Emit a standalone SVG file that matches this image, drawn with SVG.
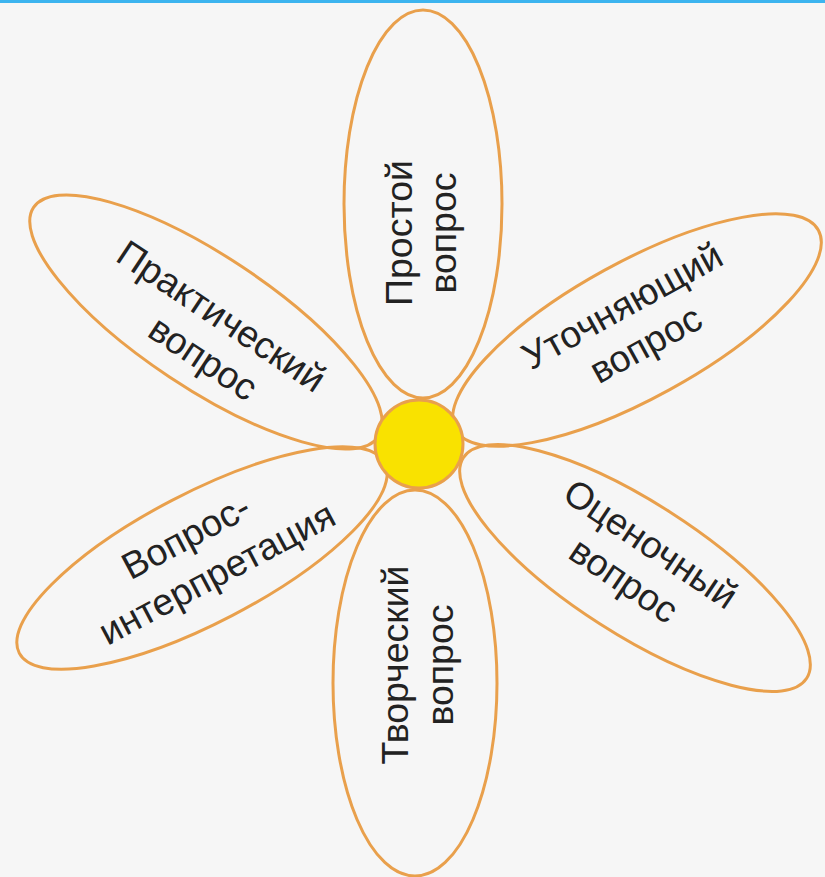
<svg xmlns="http://www.w3.org/2000/svg" width="825" height="877" viewBox="0 0 825 877">
<style>
.petal{fill:none;stroke:#e9a04c;stroke-width:3}
.lbl{font-family:"Liberation Sans",Arial,sans-serif;font-size:37.5px;fill:#222;text-anchor:middle}
</style>
<rect x="0" y="0" width="825" height="877" fill="#f6f6f6"/>
<rect x="0" y="0" width="825" height="3" fill="#3cb4ef"/>
<g id="petal-top"><ellipse class="petal" cx="423" cy="204" rx="79" ry="194"/>
<text class="lbl" transform="translate(424,233) rotate(-90)"><tspan x="0" y="-12">Простой</tspan><tspan x="0" y="32">вопрос</tspan></text></g>
<g id="petal-upper-left"><ellipse class="petal" transform="translate(206,322) rotate(33.6)" cx="0" cy="0" rx="207" ry="66"/>
<text class="lbl" transform="translate(211,339) rotate(33.6)"><tspan x="-4" y="-12">Практический</tspan><tspan x="4" y="33">вопрос</tspan></text></g>
<g id="petal-upper-right"><ellipse class="petal" transform="translate(637,330) rotate(-28.8)" cx="0" cy="0" rx="207" ry="68"/>
<text class="lbl" transform="translate(635,327) rotate(-28.8)"><tspan x="-1" y="-12">Уточняющий</tspan><tspan x="1" y="33">вопрос</tspan></text></g>
<g id="petal-lower-right"><ellipse class="petal" transform="translate(635,568) rotate(32.7)" cx="0" cy="0" rx="204" ry="66"/>
<text class="lbl" transform="translate(636,564) rotate(34)"><tspan x="1" y="-12">Оценочный</tspan><tspan x="-1" y="33">вопрос</tspan></text></g>
<g id="petal-lower-left"><ellipse class="petal" transform="translate(202,558) rotate(-27.5)" cx="0" cy="0" rx="206" ry="65"/>
<text class="lbl" transform="translate(202,556) rotate(-28)"><tspan x="-5" y="-12">Вопрос-</tspan><tspan x="5" y="35">интерпретация</tspan></text></g>
<g id="petal-bottom"><ellipse class="petal" cx="415" cy="683" rx="82" ry="193"/>
<text class="lbl" transform="translate(420,665) rotate(-90)"><tspan x="0" y="-12">Творческий</tspan><tspan x="0" y="33">вопрос</tspan></text></g>
<g id="center"><circle cx="419" cy="444" r="44" fill="#f9e200" stroke="#e9a04c" stroke-width="3"/></g>
</svg>
